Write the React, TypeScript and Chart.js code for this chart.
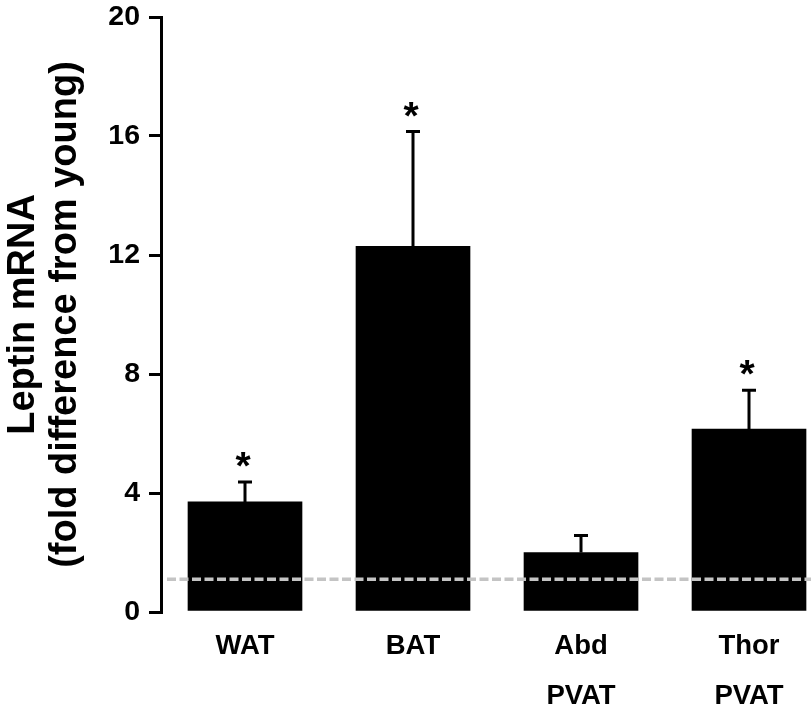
import React, { useEffect, useRef } from "react";
import { Chart, registerables } from "chart.js";

Chart.register(...registerables);

const categories: string[][] = [["WAT"], ["BAT"], ["Abd", "PVAT"], ["Thor", "PVAT"]];
const values = [3.7, 12.29, 2.0, 6.15];
const errors = [0.67, 3.86, 0.57, 1.3];
const significant = [true, true, false, true];
const yTicks = [0, 4, 8, 12, 16, 20];
const youngBaseline = 1.1;
const yTitle = ["Leptin mRNA", "(fold difference from young)"];

const FAMILY = "'Liberation Sans', Arial, Helvetica, sans-serif";

const annotations = {
  id: "annotations",
  afterDatasetsDraw(chart: any) {
    const ctx = chart.ctx as CanvasRenderingContext2D;
    const y = chart.scales.y;
    const meta = chart.getDatasetMeta(0);
    ctx.save();
    ctx.strokeStyle = "#000";
    ctx.lineWidth = 3;
    meta.data.forEach((bar: any, i: number) => {
      const top = y.getPixelForValue(values[i]);
      const errY = y.getPixelForValue(values[i] + errors[i]);
      ctx.beginPath();
      ctx.moveTo(bar.x, top);
      ctx.lineTo(bar.x, errY);
      ctx.moveTo(bar.x - 7, errY);
      ctx.lineTo(bar.x + 7, errY);
      ctx.stroke();
      if (significant[i]) {
        ctx.fillStyle = "#000";
        ctx.font = `bold 39px ${FAMILY}`;
        ctx.textAlign = "center";
        ctx.textBaseline = "alphabetic";
        ctx.fillText("*", bar.x - 2, errY - 3);
      }
    });
    const yl = y.getPixelForValue(youngBaseline);
    ctx.setLineDash([9, 3.5]);
    ctx.strokeStyle = "#c4c4c4";
    ctx.lineWidth = 3.5;
    ctx.beginPath();
    ctx.moveTo(chart.chartArea.left + 6, yl);
    ctx.lineTo(chart.chartArea.right, yl);
    ctx.stroke();
    ctx.restore();
  },
};

export default function App() {
  const ref = useRef<HTMLCanvasElement | null>(null);
  useEffect(() => {
    if (!ref.current) return;
    const chart = new Chart(ref.current, {
      type: "bar",
      data: {
        datasets: [
          {
            data: values.map((v, i) => ({ x: i, y: v })),
            backgroundColor: "#000",
            borderWidth: 0,
            barThickness: 114,
          },
        ],
      },
      options: {
        animation: false,
        responsive: false,
        devicePixelRatio: 1,
        layout: { padding: { top: 17, right: 0, bottom: 0, left: 0 } },
        plugins: { legend: { display: false }, tooltip: { enabled: false } },
        scales: {
          x: {
            type: "linear",
            offset: false,
            min: -0.5,
            max: 3.369,
            afterBuildTicks: (s: any) => {
              s.ticks = categories.map((_, i) => ({ value: i }));
            },
            afterFit: (s: any) => {
              s.height = 105;
              s.paddingLeft = 0;
              s.paddingRight = 0;
            },
            grid: { display: false, drawTicks: false, offset: false },
            border: { display: false },
            ticks: {
              callback: (v: any) => categories[Math.round(Number(v))],
              font: { size: 27.5, weight: "bold", family: FAMILY, lineHeight: 50 / 27.5 },
              color: "#000",
              padding: 9,
              maxRotation: 0,
              autoSkip: false,
            },
          },
          y: {
            min: 0,
            max: 20,
            afterBuildTicks: (s: any) => {
              s.ticks = yTicks.map((v) => ({ value: v }));
            },
            afterFit: (s: any) => {
              s.width = 161;
              s.paddingTop = 0;
              s.paddingBottom = 0;
            },
            grid: { drawOnChartArea: false, color: "#000", lineWidth: 3, tickLength: 12 },
            border: { display: true, color: "#000", width: 3 },
            ticks: {
              font: { size: 28.5, weight: "bold", family: FAMILY },
              color: "#000",
              padding: 9,
            },
            title: {
              display: true,
              text: yTitle,
              font: { size: 38, weight: "bold", family: FAMILY, lineHeight: 1.1 },
              color: "#000",
              padding: { top: 3, bottom: 0 },
            },
          },
        },
      } as any,
      plugins: [annotations],
    });
    return () => chart.destroy();
  }, []);
  return (
    <div style={{ position: "absolute", left: 0, top: 0, width: 811, height: 717 }}>
      <canvas ref={ref} width={811} height={717} style={{ display: "block" }} />
    </div>
  );
}
